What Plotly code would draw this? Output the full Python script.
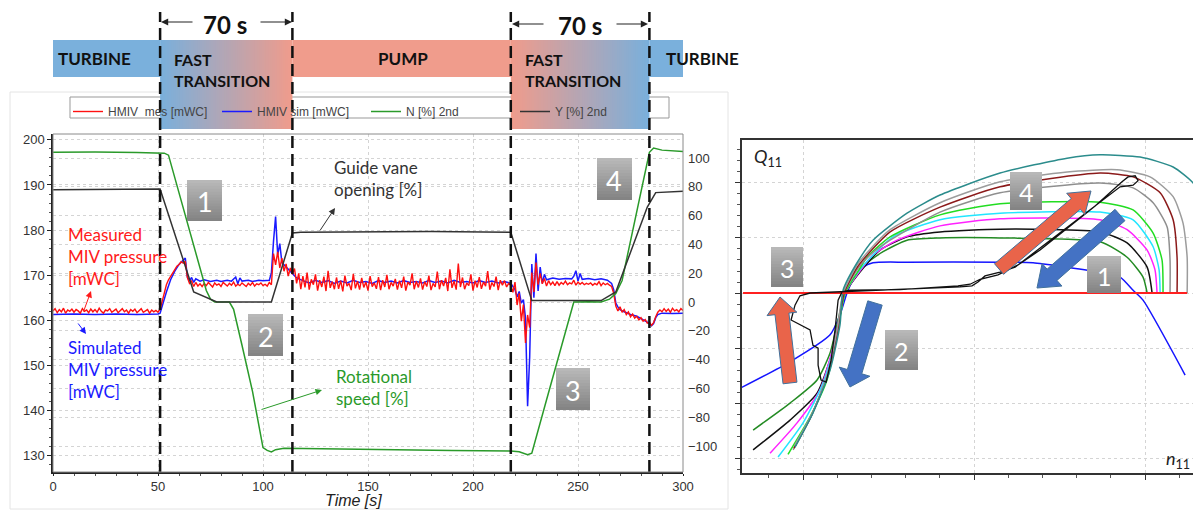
import math
import plotly.graph_objects as go

# page body has an 8 px margin: the figure is sized to fill the rest of the window
OFF = 8
W, H = 1201 - OFF, 512 - OFF
def px(x): return (x - OFF) / W
def py(y): return 1 - (y - OFF) / H

# ---------------- LEFT CHART DATA ----------------
# measured MIV pressure [mWC], 1 s samples, segments start at these times
mes_segment_starts = [0, 51, 115, 218, 285]
mes_turbine1 = [162.1, 162.6, 161.7, 162.4, 161.9, 162.7, 161.6, 162.3, 162.0, 162.5,
                161.8, 162.4, 162.1, 161.6, 162.6, 162.0, 162.3, 161.7, 162.5, 161.9,
                162.4, 161.8, 162.7, 162.0, 161.6, 162.3, 162.1, 162.6, 161.8, 162.2,
                162.5, 161.7, 162.2, 162.6, 161.9, 162.3, 161.6, 162.4, 162.0, 162.5,
                161.7, 162.2, 162.6, 161.8, 162.1, 162.4, 161.6, 162.3, 161.9, 162.2,
                161.8]
mes_transition1 = [162.5, 164.2, 166.4, 167.9, 169.0, 169.7, 170.6, 171.2, 172.0, 172.4,
                   173.0, 172.7, 173.1, 169.5, 168.2, 168.7, 167.5, 168.4, 167.6, 168.1,
                   167.5, 168.2, 167.7, 168.4, 167.9, 167.4, 168.3, 167.8, 168.1, 167.5,
                   168.4, 167.9, 167.6, 168.2, 167.8, 168.5, 167.6, 168.0, 167.7, 168.3,
                   167.9, 167.5, 168.2, 167.8, 168.4, 167.6, 168.1, 167.9, 168.3, 167.7,
                   168.0, 167.6, 168.4, 167.9,
                   174.8, 172.3, 175.2, 171.6, 173.8, 170.9, 172.5, 169.8, 171.6, 170.2]
mes_pump = [171.5, 168.2, 170.4, 166.9, 169.8, 167.3, 170.6, 166.8, 169.1, 167.9,
            170.2, 166.6, 168.9, 167.4, 169.7, 166.5, 171.0, 167.2, 168.6, 166.9,
            169.5, 167.0, 168.8, 166.4, 169.9, 167.6, 168.2, 166.7, 170.3, 167.1,
            168.7, 166.8, 169.4, 167.3, 168.5, 166.6, 169.8, 167.5, 168.3, 167.0,
            169.6, 166.7, 168.9, 167.4, 170.1, 166.9, 168.4, 167.6, 169.2, 166.8,
            168.8, 167.2, 169.7, 166.6, 168.5, 167.8, 170.4, 166.9, 168.7, 167.3,
            169.3, 166.8, 168.6, 167.5, 169.9, 166.7, 168.2, 167.4, 170.8, 166.9,
            168.9, 167.6, 169.4, 166.5, 171.3, 167.2, 168.7, 166.8, 172.6, 167.4,
            169.5, 166.9, 168.3, 167.7, 170.2, 166.6, 168.8, 167.3, 169.6, 167.0,
            168.5, 167.6, 170.9, 166.8, 168.4, 167.5, 169.7, 166.7, 168.9, 167.8,
            168.8, 167.4, 168.2]
mes_transition2 = [167.8, 166.2, 168.5, 163.4, 166.0, 159.8, 163.5, 155.0, 161.2, 158.4,
                   170.6, 166.3, 172.8, 167.9, 170.4, 168.1, 169.3, 167.6, 168.8, 167.9,
                   168.5, 167.7, 168.6, 167.8, 168.4, 168.0, 168.7, 167.9, 168.3, 168.1,
                   168.9, 167.8, 168.5, 168.0, 168.4, 167.9, 168.2, 168.0, 168.3, 167.8,
                   168.2, 167.9, 168.6, 167.7, 168.3, 167.9, 168.2, 167.8, 167.5, 166.0,
                   163.2, 162.1, 163.0, 161.8, 162.4, 161.3, 161.9, 160.8, 161.4, 160.5,
                   160.9, 160.1, 160.6, 159.8, 160.2, 159.4, 159.6]
mes_turbine2 = [158.9, 159.5, 160.8, 161.8, 162.3, 161.9, 162.6, 162.0, 162.5, 161.8,
                162.7, 162.1, 162.4, 161.9, 162.6, 162.2]

# simulated MIV pressure [mWC] as (time s, value)
sim_points = [(0, 161.3), (10, 161.4), (20, 161.3), (30, 161.4), (40, 161.3), (50, 161.4),
              (51, 161.6), (52, 163.2), (54, 166.3), (56, 169.0), (58, 170.9), (60, 172.4),
              (62, 173.4), (63, 173.8), (64, 169.6), (65, 168.7), (66, 169.5), (67, 168.4),
              (68, 169.2), (70, 168.7), (72, 169.0), (75, 168.6), (78, 168.9), (80, 168.6),
              (83, 168.9), (85, 168.7), (87, 169.6), (88, 168.1), (89, 169.4), (90, 168.7),
              (93, 168.9), (95, 168.6), (98, 168.9), (100, 168.8), (103, 168.9), (104, 170.5),
              (105, 177.5), (106, 183.0), (107, 174.5), (108, 177.0), (109, 172.8), (110, 172.3),
              (112, 171.2), (114, 170.3), (116, 169.4), (119, 168.8), (122, 168.3), (125, 168.9),
              (128, 168.4), (131, 168.8), (134, 168.2), (137, 168.7), (140, 168.3), (143, 168.9),
              (146, 168.4), (149, 168.6), (152, 168.2), (155, 168.8), (158, 168.4), (161, 168.7),
              (164, 168.3), (167, 168.8), (170, 168.4), (173, 168.6), (176, 168.3), (179, 168.8),
              (182, 168.4), (185, 168.7), (188, 168.3), (191, 168.9), (194, 168.4), (197, 168.6),
              (200, 168.3), (203, 168.8), (206, 168.4), (209, 168.7), (212, 168.3), (215, 168.6),
              (218, 168.2), (220, 166.8), (221, 165.2), (222, 166.4), (223, 163.8), (224, 164.6),
              (225, 160.5), (226, 141.0), (227, 152.0), (228, 172.5), (229, 165.0), (230, 174.8),
              (231, 166.5), (232, 171.8), (233, 168.2), (234, 170.2), (235, 169.0), (238, 169.4),
              (241, 169.1), (244, 169.3), (247, 169.2), (248, 169.8), (249, 171.0), (250, 168.7),
              (251, 170.4), (252, 169.1), (255, 169.3), (258, 169.0), (261, 169.2), (264, 168.9),
              (266, 168.2), (267, 166.8), (268, 163.8), (269, 163.0), (270, 162.4), (272, 161.9),
              (275, 161.3), (278, 160.9), (281, 160.2), (283, 159.6), (285, 158.8), (286, 159.3),
              (287, 160.6), (288, 161.3), (290, 161.6), (295, 161.5), (300, 161.6)]

# rotational speed N [%] (secondary axis)
speed_t = [0, 20, 40, 50, 53, 55, 60, 65, 70, 73, 75, 77, 84, 86, 90, 95, 100, 102, 104, 106,
           110, 130, 160, 190, 218, 222, 226, 228, 235, 240, 248, 255, 261, 265, 268, 271, 278,
           284, 286, 290, 300]
speed_v = [104, 104.2, 103.8, 103.8, 103.4, 102, 76, 50, 24, 8, 2, 0, 0, -5, -30, -62, -101,
           -103, -104, -102.5, -101.5, -102, -102.5, -103, -103.5, -104, -106, -105, -68, -42,
           0, 0.3, 0, 2, 6, 15, 63, 104, 107, 105.5, 104.5]

# guide vane opening Y [%] (secondary axis)
gv_t = [0, 25, 50, 51, 67, 78, 104, 114, 118, 150, 180, 218, 228, 240, 261, 268, 283, 287, 300]
gv_v = [78, 78.5, 79, 78.5, 7, 0, 0, 48, 48.5, 49, 49, 48.5, 1, 1, 1, 7, 66, 76, 77]

phase_bounds = [51, 114, 218, 284]
phase_labels = ["TURBINE", "FAST<br>TRANSITION", "PUMP", "FAST<br>TRANSITION", "TURBINE"]
left_y_ticks = [130, 140, 150, 160, 170, 180, 190, 200]
right_y_ticks = [-100, -80, -60, -40, -20, 0, 20, 40, 60, 80, 100]
x_ticks = [0, 50, 100, 150, 200, 250, 300]

# ---------------- RIGHT CHART DATA (n11, Q11) ----------------
curve_teal = [(-0.047, -2.80), (0.058, -2.18), (0.158, -1.40), (0.216, -0.58), (0.234, 0.05),
              (0.316, 0.55), (0.409, 0.96), (0.608, 1.45), (0.801, 1.78), (1.152, 2.18),
              (1.544, 2.45), (1.737, 2.51), (1.971, 2.47), (2.164, 2.29), (2.281, 2.00),
              (2.322, 1.75), (2.380, 1.42), (2.427, 0.60), (2.439, 0.0)]
curve_gray_outer = [(-0.047, -2.76), (0.058, -2.16), (0.146, -1.44), (0.199, -0.67), (0.234, 0),
                    (0.316, 0.51), (0.374, 0.73), (0.509, 1.15), (0.801, 1.64), (1.152, 2.02),
                    (1.544, 2.20), (1.836, 2.24), (2.029, 2.11), (2.164, 1.75), (2.222, 1.27),
                    (2.246, 0.65), (2.246, 0)]
curve_darkred = [(-0.053, -2.82), (0.053, -2.20), (0.146, -1.47), (0.205, -0.64), (0.240, 0),
                 (0.322, 0.49), (0.509, 1.11), (0.801, 1.56), (1.152, 1.93), (1.737, 2.18),
                 (1.930, 2.11), (2.088, 1.82), (2.164, 1.33), (2.187, 0.65), (2.187, 0)]
curve_gray_inner = [(-0.058, -2.85), (0.047, -2.24), (0.140, -1.51), (0.205, -0.67), (0.240, 0),
                    (0.327, 0.47), (0.392, 0.69), (0.509, 0.96), (0.801, 1.47), (1.152, 1.82),
                    (1.737, 2.00), (1.930, 1.91), (2.047, 1.64), (2.129, 1.20), (2.146, 0.60),
                    (2.146, 0)]
curve_lime = [(-0.088, -2.93), (0.041, -2.25), (0.140, -1.58), (0.199, -0.76), (0.246, 0),
              (0.333, 0.45), (0.374, 0.65), (0.509, 1.02), (0.801, 1.42), (1.152, 1.62),
              (1.737, 1.65), (1.930, 1.51), (2.047, 1.09), (2.099, 0.60), (2.105, 0)]
curve_cyan = [(-0.146, -2.98), (0.0, -2.36), (0.117, -1.64), (0.193, -0.82), (0.246, 0),
              (0.339, 0.45), (0.526, 1.02), (0.801, 1.33), (1.152, 1.45), (1.737, 1.47),
              (1.930, 1.33), (2.047, 0.84), (2.082, 0.42), (2.088, 0)]
curve_magenta = [(-0.193, -2.91), (-0.035, -2.36), (0.099, -1.76), (0.187, -0.85), (0.246, 0),
                 (0.345, 0.45), (0.409, 0.69), (0.550, 0.96), (0.801, 1.22), (1.152, 1.35),
                 (1.737, 1.33), (1.895, 1.15), (2.012, 0.78), (2.058, 0.42), (2.070, 0)]
curve_black = [(-0.292, -2.85), (-0.076, -2.31), (0.082, -1.82), (0.175, -1.04), (0.246, 0),
               (0.351, 0.45), (0.450, 0.78), (0.608, 1.02), (0.801, 1.11), (1.152, 1.16),
               (1.737, 1.11), (1.895, 0.91), (2.012, 0.47), (2.041, 0)]
curve_darkgreen = [(-0.292, -2.49), (-0.076, -2.00), (0.082, -1.58), (0.158, -1.09), (0.205, -0.49),
                   (0.246, 0), (0.363, 0.51), (0.468, 0.75), (0.608, 0.96), (0.801, 1.00),
                   (1.152, 1.00), (1.737, 0.93), (1.895, 0.65), (1.988, 0.29), (2.012, 0)]
curve_blue = [(-0.368, -1.73), (-0.076, -1.25), (0.158, -0.76), (0.216, -0.40), (0.257, 0),
              (0.292, 0.24), (0.351, 0.47), (0.409, 0.55), (0.608, 0.56), (1.152, 0.56),
              (1.345, 0.55), (1.544, 0.47), (1.737, 0.38), (1.854, 0.29), (1.930, 0.05),
              (1.988, -0.13), (2.234, -1.49)]
trajectory = [(1.901, 2.11), (1.942, 2.13), (1.959, 2.04), (1.930, 1.96), (1.854, 1.93),
              (1.678, 1.51), (1.503, 1.09), (1.357, 0.75), (1.240, 0.47), (1.152, 0.38),
              (1.064, 0.31), (1.023, 0.20), (0.988, 0.13), (0.918, 0.11), (0.567, 0.07),
              (0.275, 0.04), (0.129, 0.02), (0.041, 0.0), (-0.018, -0.05), (-0.047, -0.22),
              (-0.070, -0.49), (-0.018, -0.58), (0.041, -0.67), (0.058, -0.95), (0.088, -1.00),
              (0.088, -1.31), (0.105, -1.58), (0.135, -1.62), (0.164, -1.22), (0.187, -0.67),
              (0.205, -0.13), (0.228, 0.02), (0.275, 0.05), (0.567, 0.06), (0.906, 0.13),
              (0.977, 0.16), (1.035, 0.25), (1.140, 0.33), (1.257, 0.51), (1.386, 0.78),
              (1.532, 1.15), (1.708, 1.58), (1.865, 2.02), (1.901, 2.11)]
zero_flow_n = [-0.351, 2.246]
zero_flow_q = [0, 0]

right_curves = [curve_blue, curve_darkgreen, curve_black, curve_magenta, curve_cyan,
                curve_lime, curve_gray_inner, curve_darkred, curve_gray_outer, curve_teal]
right_colors = ["#1414ff", "#238b23", "#111111", "#ff22ff", "#22e6ff", "#22dd22",
                "#8f8f8f", "#8b1a1a", "#9c9c9c", "#2b8c8c"]

# ---------------- FIGURE ----------------
fig = go.Figure()
sim_t = [p[0] for p in sim_points]
sim_v = [p[1] for p in sim_points]
mes_t, mes_v = [], []
for s, seg in zip(mes_segment_starts,
                  [mes_turbine1, mes_transition1, mes_pump, mes_transition2, mes_turbine2]):
    for i, v in enumerate(seg):
        mes_t.append(s + i)
        mes_v.append(v)

fig.add_trace(go.Scatter(x=sim_t, y=sim_v, mode="lines", name="HMIV sim [mWC]",
                         line=dict(color="#1a1aff", width=1.5), legendrank=2,
                         xaxis="x", yaxis="y"))
fig.add_trace(go.Scatter(x=mes_t, y=mes_v, mode="lines", name="HMIV  mes [mWC]",
                         line=dict(color="#ff1010", width=1.4), legendrank=1,
                         xaxis="x", yaxis="y"))
fig.add_trace(go.Scatter(x=speed_t, y=speed_v, mode="lines", name="N [%] 2nd",
                         line=dict(color="#2a9a2a", width=1.5), legendrank=3,
                         xaxis="x", yaxis="y2"))
fig.add_trace(go.Scatter(x=gv_t, y=gv_v, mode="lines", name="Y [%] 2nd",
                         line=dict(color="#333333", width=1.5), legendrank=4,
                         xaxis="x", yaxis="y2"))

for curve, col in zip(right_curves, right_colors):
    fig.add_trace(go.Scatter(x=[p[0] for p in curve], y=[p[1] for p in curve], mode="lines",
                             line=dict(color=col, width=1.5, shape="spline", smoothing=0.6),
                             showlegend=False, xaxis="x2", yaxis="y3", hoverinfo="skip"))
fig.add_trace(go.Scatter(x=zero_flow_n, y=zero_flow_q, mode="lines",
                         line=dict(color="#ff2020", width=2), showlegend=False,
                         xaxis="x2", yaxis="y3"))
fig.add_trace(go.Scatter(x=[p[0] for p in trajectory], y=[p[1] for p in trajectory],
                         mode="lines", line=dict(color="#111111", width=1.3),
                         showlegend=False, xaxis="x2", yaxis="y3"))

shapes = []
annotations = []
BLUE = (122, 176, 220)
SALMON = (240, 156, 140)

def rgb(c): return "rgb(%d,%d,%d)" % c

def text(x, y, s, font, xanchor="center", yanchor="middle", align="center"):
    annotations.append(dict(xref="paper", yref="paper", x=px(x), y=py(y), text=s,
                            showarrow=False, xanchor=xanchor, yanchor=yanchor, align=align,
                            font=font))

# outer faint frame of left chart and legend box
shapes.append(dict(type="rect", xref="paper", yref="paper", x0=px(10), x1=px(728),
                   y0=py(509), y1=py(92), line=dict(color="#e4e4e4", width=1),
                   fillcolor="rgba(0,0,0,0)", layer="below"))
shapes.append(dict(type="rect", xref="paper", yref="paper", x0=px(70), x1=px(669),
                   y0=py(118), y1=py(97), line=dict(color="#999999", width=1),
                   fillcolor="white"))

# banners
banner_top, banner_bot, grad_bot = py(40), py(77), py(129)
t_left, t_right = (41 - 53) / 2.1, (770 - 53) / 2.1
solid = [(t_left, phase_bounds[0], BLUE), (phase_bounds[1], phase_bounds[2], SALMON),
         (phase_bounds[3], t_right, BLUE)]
for a, b, c in solid:
    shapes.append(dict(type="rect", xref="x", yref="paper", x0=a, x1=b, y0=banner_bot,
                       y1=banner_top, fillcolor=rgb(c), line=dict(width=0)))
for a, b, c0, c1 in [(phase_bounds[0], phase_bounds[1], BLUE, SALMON),
                     (phase_bounds[2], phase_bounds[3], SALMON, BLUE)]:
    n = 60
    for i in range(n):
        f = (i + 0.5) / n
        c = tuple(int(c0[k] + (c1[k] - c0[k]) * f) for k in range(3))
        shapes.append(dict(type="rect", xref="x", yref="paper",
                           x0=a + (b - a) * i / n, x1=a + (b - a) * (i + 1.5) / n if i < n - 1 else b,
                           y0=grad_bot, y1=banner_top, fillcolor=rgb(c), line=dict(width=0)))
# dashed phase boundaries
for b in phase_bounds:
    shapes.append(dict(type="line", xref="x", yref="paper", x0=b, x1=b, y0=py(472), y1=py(12),
                       line=dict(color="#111111", width=2.5, dash="12px,6px")))
# left plot frame (top/right gray)
shapes.append(dict(type="rect", xref="paper", yref="paper", x0=px(53), x1=px(683),
                   y0=py(472), y1=py(134), line=dict(color="#8a8a8a", width=1)))

# banner labels
label_pos = [(94, "center", 59), (172, "left", 70), (403, "center", 59), (523, "left", 70),
             (702, "center", 59)]
for (xx, al, yy), lab in zip(label_pos, phase_labels):
    two = "<br>" in lab
    text(xx, yy, "<b>%s</b>" % lab, dict(family="Lato", size=16 if two else 17, color="#111111"),
         xanchor=al, align="left")
# 70 s brackets
for cx, yy, l, r in [(225, 24, 160, 293), (580, 26, 511, 649)]:
    text(cx, yy, "<b>70 s</b>", dict(family="Lato", size=24, color="#111111"))
    annotations.append(dict(xref="paper", yref="paper", x=px(l + 1), y=py(yy - 2), text="",
                            showarrow=True, ax=33, ay=0, arrowhead=2, arrowsize=1.2,
                            arrowwidth=1.2, arrowcolor="#222222"))
    annotations.append(dict(xref="paper", yref="paper", x=px(r - 1), y=py(yy - 2), text="",
                            showarrow=True, ax=-33, ay=0, arrowhead=2, arrowsize=1.2,
                            arrowwidth=1.2, arrowcolor="#222222"))

# gray number boxes
def number_box(x0, y0, x1, y1, label, size):
    n = 14
    for i in range(n):
        g = int(184 - (184 - 132) * i / (n - 1))
        yb = y0 + (y1 - y0) * (i + 1) / n + (1.0 if i < n - 1 else 0)
        shapes.append(dict(type="rect", xref="paper", yref="paper", x0=px(x0), x1=px(x1),
                           y0=py(yb), y1=py(y0 + (y1 - y0) * i / n),
                           fillcolor="rgb(%d,%d,%d)" % (g, g, g), line=dict(width=0)))
    text((x0 + x1) / 2, (y0 + y1) / 2 + 1, label, dict(family="Lato", size=size, color="white"))

# block arrows on right chart
def block_arrow(tail, tip, sw, hw, hl, fill):
    (x0, y0), (x1, y1) = tail, tip
    L = math.hypot(x1 - x0, y1 - y0)
    ux, uy = (x1 - x0) / L, (y1 - y0) / L
    nx, ny = -uy, ux
    bx, by = x1 - ux * hl, y1 - uy * hl
    pts = [(x0 + nx * sw / 2, y0 + ny * sw / 2), (bx + nx * sw / 2, by + ny * sw / 2),
           (bx + nx * hw / 2, by + ny * hw / 2), (x1, y1), (bx - nx * hw / 2, by - ny * hw / 2),
           (bx - nx * sw / 2, by - ny * sw / 2), (x0 - nx * sw / 2, y0 - ny * sw / 2)]
    path = "M " + " L ".join("%.5f,%.5f" % (px(a), py(b)) for a, b in pts) + " Z"
    shapes.append(dict(type="path", xref="paper", yref="paper", path=path, fillcolor=fill,
                       line=dict(color="#41719c", width=1)))

ORANGE, ABLUE = "#e9644a", "#4472c4"
block_arrow((999, 269), (1091, 191), 14, 28, 20, ORANGE)
block_arrow((1120, 215), (1037, 288), 15, 30, 20, ABLUE)
block_arrow((790, 383), (780, 297), 14, 30, 17, ORANGE)
block_arrow((875, 303), (850, 387), 15, 32, 16, ABLUE)

number_box(187, 180, 222, 221, "1", 27)
number_box(248, 314, 283, 356, "2", 27)
number_box(556, 368, 590, 410, "3", 27)
number_box(597, 158, 632, 200, "4", 27)
number_box(1010, 172, 1042, 210, "4", 25)
number_box(1087, 256, 1121, 293, "1", 25)
number_box(771, 247, 803, 287, "3", 25)
number_box(885, 330, 918, 370, "2", 25)

# text labels with arrows on left chart
def label(x, y, s, color):
    text(x, y, s, dict(family="Lato", size=17, color=color), xanchor="left", align="left")

def pointer(head, tail, color):
    annotations.append(dict(xref="paper", yref="paper", x=px(head[0]), y=py(head[1]), text="",
                            showarrow=True, ax=tail[0] - head[0], ay=tail[1] - head[1],
                            arrowhead=2, arrowsize=1.3, arrowwidth=1, arrowcolor=color))

label(66, 256, "Measured<br>MIV pressure<br>[mWC]", "#ff1a1a")
label(66, 369, "Simulated<br>MIV pressure<br>[mWC]", "#1a1aff")
label(332, 178, "Guide vane<br>opening [%]", "#333333")
label(334, 387, "Rotational<br>speed [%]", "#2a9a2a")
pointer((91, 291), (83, 313), "#ff1a1a")
pointer((86, 334), (77, 322), "#1a1aff")
pointer((335, 208), (319, 232), "#333333")
pointer((322, 390), (260, 410), "#2a9a2a")

text(353, 500, "<i>Time [s]</i>", dict(family="Liberation Sans", size=16, color="#222"))
text(752, 157, "<i>Q</i><sub>11</sub>", dict(family="Lato", size=18, color="#222"),
     xanchor="left")
text(1164, 459, "<i>n</i><sub>11</sub>", dict(family="Lato", size=18, color="#222"),
     xanchor="left")

tickfont = dict(family="Liberation Sans", size=13, color="#333333")
grid = dict(showgrid=True, gridcolor="#d4d4d4", griddash="dot", gridwidth=1, zeroline=False,
            automargin=False)

fig.update_layout(
    width=W, height=H, margin=dict(l=0, r=0, t=0, b=0, autoexpand=False),
    paper_bgcolor="white", plot_bgcolor="white",
    shapes=shapes, annotations=annotations,
    showlegend=True,
    legend=dict(orientation="h", x=px(68), y=py(97), xanchor="left", yanchor="top",
                bgcolor="rgba(0,0,0,0)", borderwidth=0, entrywidth=104,
                entrywidthmode="pixels", font=dict(family="Liberation Sans", size=12,
                                                   color="#444444")),
    xaxis=dict(domain=[px(53), px(683)], range=[0, 300], anchor="y", tickvals=x_ticks,
               showline=True, linecolor="#222222", linewidth=1.5, ticks="outside", ticklen=2,
               tickcolor="#222222", tickfont=tickfont,
               minor=dict(dtick=10, ticks="outside", ticklen=2, tickcolor="#555555"), **grid),
    yaxis=dict(domain=[py(472), py(134)], range=[126.4, 201.3], anchor="x", tickvals=left_y_ticks,
               showline=True, linecolor="#222222", linewidth=1.5, ticks="outside", ticklen=4,
               tickcolor="#222222", tickfont=tickfont,
               minor=dict(dtick=2, ticks="outside", ticklen=2, tickcolor="#555555"), **grid),
    yaxis2=dict(overlaying="y", side="right", anchor="x", range=[-118, 116.7],
                tickvals=right_y_ticks, tickfont=tickfont, ticks="", showline=False,
                ticklabelstandoff=4, **grid),
    xaxis2=dict(domain=[px(742), 1.0], range=[-0.357, 2.327], anchor="y3", dtick=1, tick0=0,
                showticklabels=False, showline=True, mirror=True, linecolor="#333333",
                linewidth=1.5, ticks="outside", ticklen=5, tickcolor="#333",
                minor=dict(dtick=0.2, ticks="outside", ticklen=3, tickcolor="#555"), **grid),
    yaxis3=dict(domain=[py(473), py(140)], range=[-3.27, 2.78], anchor="x2", dtick=1, tick0=0,
                showticklabels=False, showline=True, mirror=True, linecolor="#333333",
                linewidth=1.5, ticks="outside", ticklen=5, tickcolor="#333",
                minor=dict(dtick=0.2, ticks="outside", ticklen=3, tickcolor="#555"), **grid),
)

fig.write_html("out.html")
